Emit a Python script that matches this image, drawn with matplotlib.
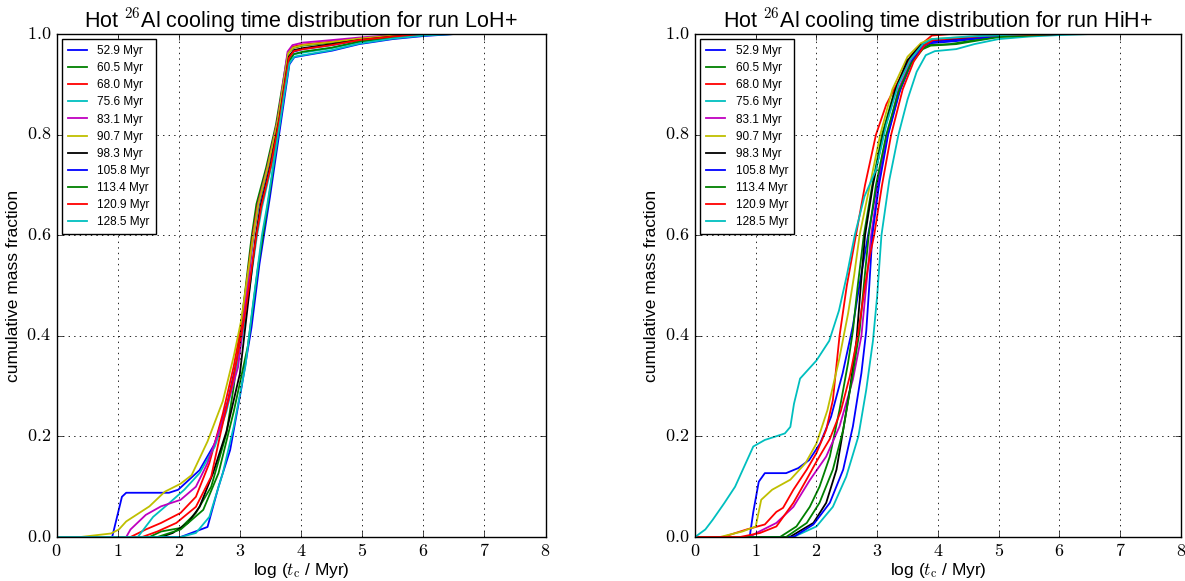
import matplotlib
matplotlib.use("Agg")
import matplotlib.pyplot as plt
from matplotlib.ticker import FuncFormatter, MultipleLocator

plt.style.use("classic")
plt.rcParams["mathtext.fontset"] = "cm"
plt.rcParams["font.family"] = ["Liberation Sans", "DejaVu Sans"]

SNAP_LABELS = ["52.9 Myr", "60.5 Myr", "68.0 Myr", "75.6 Myr", "83.1 Myr", "90.7 Myr",
               "98.3 Myr", "105.8 Myr", "113.4 Myr", "120.9 Myr", "128.5 Myr"]
COLORS = ["b", "g", "r", "c", "m", "y", "k", "b", "g", "r", "c"]

# run LoH+ : log(t_c / Myr) and cumulative mass fraction, one list per snapshot
LOH_X = [
    [0, 0.91, 1.07, 1.14, 1.84, 1.99, 2.34, 2.59, 2.8, 3.0, 3.1, 3.22, 3.3, 3.47, 3.63, 3.8, 3.88, 4.03, 4.5, 4.95, 5.5, 6.2, 8],
    [0, 1.52, 1.71, 2.03, 2.28, 2.53, 2.78, 2.9, 3.0, 3.19, 3.27, 3.43, 3.59, 3.78, 3.86, 4.03, 4.5, 4.95, 5.5, 6.0, 8],
    [0, 1.21, 1.46, 1.71, 2.03, 2.28, 2.5, 2.72, 2.9, 3.02, 3.21, 3.29, 3.45, 3.61, 3.79, 3.87, 4.03, 4.5, 4.95, 5.5, 6.0, 8],
    [0, 1.33, 1.58, 1.84, 2.09, 2.34, 2.59, 2.78, 2.97, 3.08, 3.28, 3.36, 3.52, 3.67, 3.8, 3.88, 4.03, 4.5, 4.95, 5.5, 6.2, 6.5, 8],
    [0, 1.14, 1.21, 1.46, 1.71, 2.03, 2.28, 2.47, 2.72, 2.97, 3.05, 3.22, 3.3, 3.46, 3.62, 3.78, 3.86, 4.03, 4.5, 4.95, 5.5, 6.0, 8],
    [0, 0.39, 0.89, 1.02, 1.14, 1.52, 1.77, 2.03, 2.21, 2.47, 2.72, 2.9, 3.02, 3.22, 3.3, 3.46, 3.62, 3.79, 3.87, 4.03, 4.5, 4.95, 5.5, 6.0, 8],
    [0, 1.71, 1.9, 2.15, 2.34, 2.56, 2.78, 3.0, 3.1, 3.26, 3.34, 3.5, 3.65, 3.8, 3.88, 4.03, 4.5, 4.95, 5.5, 6.1, 8],
    [0, 2.03, 2.47, 2.65, 2.84, 3.03, 3.19, 3.32, 3.49, 3.73, 3.81, 3.89, 4.03, 4.51, 4.95, 5.5, 6.0, 6.5, 8],
    [0, 1.65, 2.03, 2.4, 2.65, 2.9, 3.13, 3.3, 3.47, 3.71, 3.8, 3.88, 4.03, 4.5, 4.95, 5.5, 6.2, 8],
    [0, 1.4, 1.65, 1.96, 2.28, 2.53, 2.69, 2.9, 3.08, 3.27, 3.35, 3.51, 3.66, 3.8, 3.88, 4.03, 4.5, 4.95, 5.5, 6.1, 8],
    [0, 2.03, 2.28, 2.5, 2.72, 2.9, 3.09, 3.2, 3.36, 3.44, 3.6, 3.72, 3.81, 3.89, 4.03, 4.5, 4.95, 5.5, 6.0, 6.5, 8],
]
LOH_Y = [
    [0, 0, 0.08, 0.088, 0.088, 0.094, 0.133, 0.186, 0.27, 0.38, 0.47, 0.6, 0.655, 0.74, 0.83, 0.955, 0.965, 0.97, 0.978, 0.988, 0.995, 1.0, 1.0],
    [0, 0, 0.011, 0.018, 0.048, 0.1, 0.206, 0.3, 0.4, 0.596, 0.662, 0.735, 0.82, 0.96, 0.972, 0.977, 0.983, 0.99, 0.996, 1.0, 1.0],
    [0, 0, 0.015, 0.028, 0.048, 0.08, 0.147, 0.245, 0.34, 0.42, 0.6, 0.66, 0.735, 0.825, 0.962, 0.975, 0.979, 0.985, 0.991, 0.997, 1.0, 1.0],
    [0, 0, 0.04, 0.067, 0.094, 0.127, 0.18, 0.25, 0.35, 0.43, 0.6, 0.655, 0.74, 0.84, 0.948, 0.96, 0.963, 0.972, 0.984, 0.993, 0.999, 1.0, 1.0],
    [0, 0, 0.015, 0.044, 0.061, 0.074, 0.1, 0.147, 0.232, 0.338, 0.42, 0.6, 0.662, 0.74, 0.83, 0.965, 0.978, 0.983, 0.988, 0.993, 0.998, 1.0, 1.0],
    [0, 0, 0.007, 0.015, 0.031, 0.061, 0.09, 0.106, 0.123, 0.19, 0.27, 0.36, 0.43, 0.6, 0.66, 0.738, 0.828, 0.962, 0.973, 0.978, 0.984, 0.991, 0.997, 1.0, 1.0],
    [0, 0, 0.008, 0.028, 0.06, 0.127, 0.21, 0.325, 0.43, 0.6, 0.66, 0.74, 0.835, 0.955, 0.968, 0.972, 0.98, 0.988, 0.995, 1.0, 1.0],
    [0, 0, 0.02, 0.1, 0.173, 0.3, 0.417, 0.543, 0.675, 0.874, 0.94, 0.954, 0.957, 0.967, 0.98, 0.99, 0.996, 1.0, 1.0],
    [0, 0, 0.015, 0.054, 0.127, 0.25, 0.38, 0.54, 0.672, 0.87, 0.945, 0.96, 0.965, 0.973, 0.985, 0.993, 1.0, 1.0],
    [0, 0, 0.011, 0.028, 0.06, 0.12, 0.21, 0.32, 0.44, 0.6, 0.658, 0.74, 0.84, 0.952, 0.966, 0.97, 0.978, 0.988, 0.995, 1.0, 1.0],
    [0, 0, 0.008, 0.04, 0.127, 0.22, 0.34, 0.45, 0.6, 0.655, 0.78, 0.875, 0.942, 0.955, 0.958, 0.968, 0.981, 0.991, 0.997, 1.0, 1.0],
]

# run HiH+
HIH_X = [
    [0, 0.9, 0.96, 1.05, 1.15, 1.5, 1.7, 1.88, 2.06, 2.24, 2.43, 2.6, 2.72, 2.85, 3.0, 3.15, 3.35, 3.55, 3.75, 3.9, 4.3, 5.0, 6.0, 8],
    [0, 1.4, 1.67, 1.89, 2.05, 2.22, 2.38, 2.52, 2.6, 2.68, 2.78, 2.92, 3.08, 3.28, 3.5, 3.7, 3.85, 4.2, 5.0, 6.0, 8],
    [0, 0.46, 0.85, 1.15, 1.34, 1.45, 1.62, 1.84, 2.0, 2.16, 2.27, 2.38, 2.5, 2.65, 2.8, 2.98, 3.15, 3.36, 3.55, 3.68, 3.9, 4.2, 8],
    [0, 1.62, 2.0, 2.27, 2.49, 2.69, 2.82, 2.93, 3.0, 3.07, 3.2, 3.35, 3.5, 3.65, 3.8, 3.95, 4.3, 4.6, 5.0, 5.5, 6.0, 6.5, 8],
    [0, 0.9, 1.01, 1.34, 1.62, 1.89, 2.16, 2.38, 2.6, 2.74, 2.82, 2.9, 3.02, 3.17, 3.35, 3.55, 3.75, 3.9, 4.3, 5.0, 6.0, 8],
    [0, 0.41, 0.78, 1.0, 1.09, 1.27, 1.57, 1.82, 2.0, 2.18, 2.37, 2.52, 2.62, 2.71, 2.88, 3.05, 3.25, 3.5, 3.72, 3.88, 4.3, 5.0, 6.0, 8],
    [0, 1.56, 1.95, 2.16, 2.33, 2.44, 2.55, 2.66, 2.73, 2.8, 2.93, 3.1, 3.3, 3.5, 3.72, 3.88, 4.3, 5.0, 6.0, 8],
    [0, 1.62, 1.95, 2.22, 2.44, 2.6, 2.74, 2.82, 2.87, 2.92, 3.03, 3.18, 3.38, 3.58, 3.78, 3.92, 4.3, 5.0, 6.0, 8],
    [0, 1.5, 1.84, 2.05, 2.27, 2.44, 2.6, 2.71, 2.78, 2.86, 2.98, 3.15, 3.35, 3.55, 3.75, 3.88, 4.3, 5.0, 6.0, 8],
    [0, 0.74, 1.07, 1.34, 1.62, 1.84, 2.0, 2.22, 2.4, 2.55, 2.68, 2.8, 2.88, 2.95, 3.08, 3.23, 3.42, 3.6, 3.78, 3.92, 4.3, 5.0, 6.0, 8],
    [0, 0.17, 0.29, 0.48, 0.66, 0.81, 0.96, 1.15, 1.33, 1.48, 1.57, 1.63, 1.73, 1.85, 2.0, 2.21, 2.37, 2.5, 2.63, 2.79, 2.98, 3.15, 3.35, 3.55, 3.75, 3.9, 4.5, 5.5, 8],
]
HIH_Y = [
    [0, 0, 0.05, 0.11, 0.127, 0.127, 0.137, 0.153, 0.186, 0.239, 0.325, 0.42, 0.51, 0.6, 0.7, 0.79, 0.88, 0.94, 0.972, 0.982, 0.986, 0.996, 1.0, 1.0],
    [0, 0, 0.021, 0.06, 0.1, 0.16, 0.253, 0.346, 0.41, 0.5, 0.6, 0.7, 0.8, 0.885, 0.945, 0.972, 0.978, 0.98, 0.995, 1.0, 1.0],
    [0, 0, 0.015, 0.025, 0.05, 0.058, 0.094, 0.134, 0.167, 0.213, 0.272, 0.4, 0.5, 0.6, 0.7, 0.8, 0.86, 0.909, 0.955, 0.975, 0.997, 1.0, 1.0],
    [0, 0, 0.021, 0.06, 0.12, 0.2, 0.293, 0.39, 0.48, 0.6, 0.71, 0.8, 0.87, 0.925, 0.958, 0.966, 0.97, 0.98, 0.99, 0.995, 0.998, 1.0, 1.0],
    [0, 0, 0.008, 0.028, 0.06, 0.113, 0.16, 0.22, 0.313, 0.4, 0.5, 0.6, 0.7, 0.8, 0.89, 0.945, 0.975, 0.985, 0.99, 0.997, 1.0, 1.0],
    [0, 0, 0.011, 0.021, 0.074, 0.094, 0.114, 0.147, 0.186, 0.252, 0.351, 0.444, 0.52, 0.6, 0.7, 0.8, 0.89, 0.955, 0.982, 0.99, 0.993, 0.998, 1.0, 1.0],
    [0, 0, 0.028, 0.068, 0.134, 0.213, 0.293, 0.392, 0.5, 0.6, 0.7, 0.8, 0.89, 0.948, 0.978, 0.986, 0.99, 0.997, 1.0, 1.0],
    [0, 0, 0.025, 0.068, 0.134, 0.22, 0.326, 0.41, 0.5, 0.6, 0.7, 0.8, 0.89, 0.948, 0.978, 0.985, 0.988, 0.996, 1.0, 1.0],
    [0, 0, 0.028, 0.068, 0.134, 0.213, 0.326, 0.41, 0.5, 0.6, 0.7, 0.8, 0.885, 0.94, 0.97, 0.977, 0.98, 0.994, 1.0, 1.0],
    [0, 0, 0.008, 0.021, 0.068, 0.115, 0.15, 0.195, 0.25, 0.32, 0.4, 0.5, 0.56, 0.6, 0.7, 0.8, 0.89, 0.945, 0.978, 0.988, 0.992, 0.998, 1.0, 1.0],
    [0, 0.015, 0.034, 0.067, 0.1, 0.14, 0.18, 0.193, 0.2, 0.206, 0.219, 0.265, 0.315, 0.331, 0.351, 0.39, 0.45, 0.52, 0.6, 0.677, 0.73, 0.82, 0.9, 0.95, 0.98, 0.99, 0.995, 1.0, 1.0],
]

RUNS = ["LoH+", "HiH+"]


def draw_panel(ax, xs, ys, run):
    for x, y, c, lab in zip(xs, ys, COLORS, SNAP_LABELS):
        ax.plot(x, y, color=c, lw=1.3, label=lab)
    ax.set_xlim(0, 8)
    ax.set_ylim(0, 1)
    ax.xaxis.set_major_locator(MultipleLocator(1))
    ax.yaxis.set_major_locator(MultipleLocator(0.2))
    ax.xaxis.set_major_formatter(FuncFormatter(lambda v, p: r"$%d$" % v))
    ax.yaxis.set_major_formatter(FuncFormatter(lambda v, p: r"$%.1f$" % v))
    ax.tick_params(labelsize=13, pad=4)
    ax.grid(True, color="k", linestyle=":", linewidth=0.6)
    ax.set_title(r"Hot $^{26}$Al cooling time distribution for run " + run, fontsize=15.5, pad=5)
    ax.set_xlabel(r"log ($t_{\rm c}$ / Myr)", fontsize=12.5, labelpad=1)
    ax.set_ylabel("cumulative mass fraction", fontsize=12.5, labelpad=4)
    leg = ax.legend(loc="upper left", fontsize=8.5, handlelength=1.6, handletextpad=0.9,
                    labelspacing=0.43, borderaxespad=0.45, borderpad=0.5,
                    frameon=True, fancybox=False, shadow=False, numpoints=1)
    leg.get_frame().set_edgecolor("k")
    leg.get_frame().set_linewidth(1.0)


fig = plt.figure(figsize=(11.85, 5.81), dpi=100, facecolor="white")
ax1 = fig.add_axes([0.0477, 0.0757, 0.4127, 0.8657])
ax2 = fig.add_axes([0.5865, 0.0757, 0.4100, 0.8657])
draw_panel(ax1, LOH_X, LOH_Y, RUNS[0])
draw_panel(ax2, HIH_X, HIH_Y, RUNS[1])

fig.savefig("out.png", dpi=100, facecolor="white")
